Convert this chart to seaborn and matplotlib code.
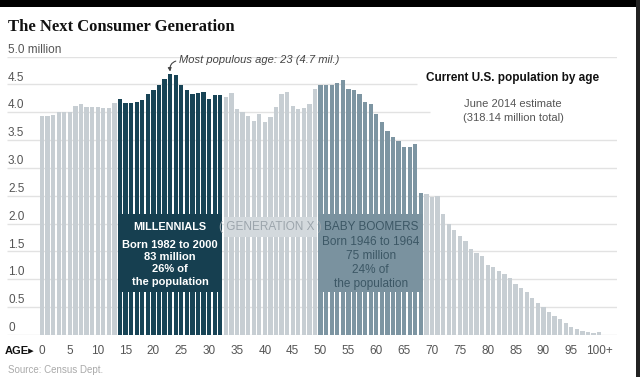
import numpy as np
import pandas as pd
import seaborn as sns
import matplotlib.pyplot as plt
from matplotlib.patches import Rectangle

# population by single year of age, June 2014 (millions), 0 .. 100+
ages = [str(a) for a in range(100)] + ["100+"]
population = [
    3.93, 3.94, 3.95, 4.00, 4.00, 4.00, 4.12, 4.14, 4.10, 4.10,
    4.10, 4.07, 4.07, 4.17, 4.23, 4.17, 4.17, 4.18, 4.22, 4.32,
    4.39, 4.48, 4.60, 4.69, 4.66, 4.49, 4.39, 4.32, 4.35, 4.36,
    4.24, 4.31, 4.30, 4.27, 4.35, 4.06, 4.00, 3.94, 3.85, 3.96,
    3.83, 3.91, 4.09, 4.33, 4.37, 4.12, 4.06, 4.07, 4.15, 4.42,
    4.48, 4.48, 4.48, 4.53, 4.57, 4.41, 4.40, 4.33, 4.18, 4.15,
    3.97, 3.83, 3.67, 3.55, 3.49, 3.38, 3.38, 3.43, 2.55, 2.53,
    2.48, 2.50, 2.18, 2.00, 1.88, 1.77, 1.68, 1.54, 1.48, 1.41,
    1.26, 1.22, 1.15, 1.09, 1.02, 0.92, 0.85, 0.77, 0.67, 0.58,
    0.51, 0.42, 0.34, 0.28, 0.21, 0.15, 0.11, 0.07, 0.05, 0.03,
    0.06,
]
millennial_ages = (14, 32)
boomer_ages = (50, 68)
gridlines = [0, 0.5, 1.0, 1.5, 2.0, 2.5, 3.0, 3.5, 4.0, 4.5, 5.0]
grid_labels = ["0", "0.5", "1.0", "1.5", "2.0", "2.5", "3.0", "3.5", "4.0", "4.5", "5.0 million"]
age_ticks = list(range(0, 101, 5))
age_tick_labels = [str(a) for a in range(0, 100, 5)] + ["100+"]


def group_of(i):
    if millennial_ages[0] <= i <= millennial_ages[1]:
        return "millennial"
    if boomer_ages[0] <= i <= boomer_ages[1]:
        return "boomer"
    return "other"


df = pd.DataFrame({"pos": range(len(ages)), "age": ages, "pop": population})
df["group"] = [group_of(i) for i in df["pos"]]

c_light = "#c7ced3"
c_dark = "#184456"
c_boom = "#7d95a2"
palette = {"other": c_light, "millennial": c_dark, "boomer": c_boom}

sns.set_style("white")
plt.rcParams["font.family"] = ["Liberation Sans", "DejaVu Sans"]

fig = plt.figure(figsize=(6.4, 3.77), dpi=100)
ax = fig.add_axes([7 / 640, 42 / 377, 610 / 640, 278.5 / 377])

# gridlines (two of them stop short of the text block on the right)
for g in gridlines:
    xmax = 103.2
    if g == 4.5:
        xmax = 67.3
    elif g == 4.0:
        xmax = 69.7
    ax.hlines(g, -6.28, xmax, color="#e2e2e2", lw=1, zorder=0)

sns.barplot(data=df, x="pos", y="pop", hue="group", palette=palette,
            dodge=False, width=0.78, legend=False, ax=ax, zorder=2,
            linewidth=0, saturation=1)

# generation panels
ax.add_patch(Rectangle((13.61, 0.77), 32.39 - 13.61, 2.18 - 0.77,
                       color="#163f50", zorder=3, lw=0))
ax.add_patch(Rectangle((49.61, 0.77), 68.39 - 49.61, 2.18 - 0.77,
                       color="#7a929f", zorder=3, lw=0))
ax.add_patch(Rectangle((32.61, 1.76), 49.39 - 32.61, 2.12 - 1.76,
                       color="#d3d9dd", zorder=3, lw=0))

ax.text(23, 1.94, "MILLENNIALS", color="white", weight="bold", fontsize=7.8,
        ha="center", va="center", zorder=4)
ax.text(23, 1.29, "Born 1982 to 2000\n83 million\n26% of\nthe population",
        color="white", weight="bold", fontsize=8, ha="center", va="center",
        linespacing=1.3, zorder=4)
ax.text(41, 1.94, "( GENERATION X )", color="#9ca5ac", fontsize=8.5,
        ha="center", va="center", zorder=4)
ax.text(59, 1.94, "BABY BOOMERS", color="#3c5765", fontsize=8.5,
        ha="center", va="center", zorder=4)
ax.text(59, 1.29, "Born 1946 to 1964\n75 million\n24% of\nthe population",
        color="#3c5765", fontsize=8.5, ha="center", va="center",
        linespacing=1.2, zorder=4)

# peak annotation
ax.annotate("Most populous age: 23 (4.7 mil.)", xy=(23, 4.73), xytext=(24.6, 4.93),
            fontsize=8, style="italic", color="#444444", va="center", ha="left",
            arrowprops=dict(arrowstyle="-|>", color="#444444", lw=0.8,
                            mutation_scale=5, shrinkA=0, shrinkB=0,
                            relpos=(0, 0.5), connectionstyle="arc3,rad=0.5"))

# y labels sit just above their gridlines
for g, lab in zip(gridlines, grid_labels):
    ax.text(-6.1, g + 0.015, lab, fontsize=8.5, color="#555555",
            ha="left", va="bottom")

ax.set_xlim(-6.28, 103.2)
ax.set_ylim(0, 5.0)
ax.set_xticks(age_ticks)
ax.set_xticklabels(age_tick_labels, fontsize=8.5, color="#555555")
ax.tick_params(axis="x", length=0, pad=7)
ax.set_yticks([])
ax.set_xlabel("")
ax.set_ylabel("")
for s in ax.spines.values():
    s.set_visible(False)

ax.text(-6.7, -0.28, "AGE\u25b8", fontsize=8, weight="bold", color="#111111",
        ha="left", va="center", family=["Liberation Sans", "DejaVu Sans"])

# right-hand key text
fig.text(513 / 640, 1 - 78 / 377, "Current U.S. population by age", fontsize=8.5,
         weight="bold", color="#111111", ha="center", va="center")
fig.text(513 / 640, 1 - 111 / 377, "June 2014 estimate\n(318.14 million total)",
         fontsize=8, color="#555555", ha="center", va="center", linespacing=1.5)

fig.text(8 / 640, 1 - 27 / 377, "The Next Consumer Generation", fontsize=12,
         weight="bold", family=["Liberation Serif", "DejaVu Serif"],
         color="#111111", ha="left", va="center")
fig.text(8 / 640, 1 - 370 / 377, "Source: Census Dept.", fontsize=7,
         color="#aaaaaa", ha="left", va="center")

# black frame strips of the screenshot
fig.add_artist(Rectangle((0, 1 - 7 / 377), 1, 7 / 377, transform=fig.transFigure,
                         color="black", lw=0))
fig.add_artist(Rectangle((636 / 640, 0), 4 / 640, 1, transform=fig.transFigure,
                         color="#222222", lw=0))

fig.savefig("out.png", dpi=100)
